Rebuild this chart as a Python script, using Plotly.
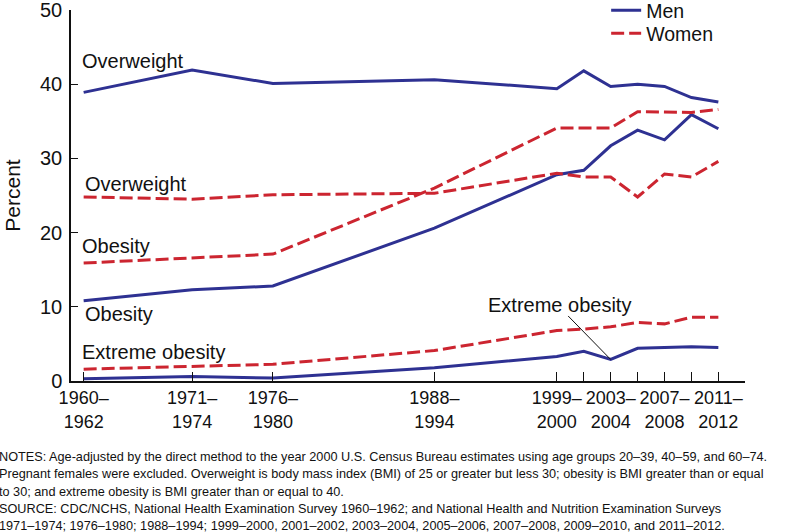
import plotly.graph_objects as go

# ---- data ----
periods = ["1960–1962", "1971–1974", "1976–1980", "1988–1994", "1999–2000", "2001–2002",
           "2003–2004", "2005–2006", "2007–2008", "2009–2010", "2011–2012"]
labeled = [True, True, True, True, True, False, True, False, True, False, True]
# position of each survey period along the (non-uniform) time axis
period_axis_pos = [0, 4.03, 7.03, 13.03, 17.58, 18.58, 19.58, 20.58, 21.58, 22.58, 23.58]

men_overweight = [38.9, 41.9, 40.1, 40.6, 39.4, 41.8, 39.7, 40.0, 39.7, 38.2, 37.6]
men_obesity = [10.8, 12.3, 12.8, 20.6, 27.8, 28.4, 31.7, 33.8, 32.5, 35.9, 34.0]
men_extreme = [0.3, 0.6, 0.4, 1.8, 3.3, 4.0, 2.9, 4.4, 4.5, 4.6, 4.5]

women_overweight = [24.8, 24.5, 25.1, 25.3, 28.0, 27.5, 27.5, 24.8, 27.9, 27.5, 29.6]
women_obesity = [15.9, 16.6, 17.1, 26.0, 34.1, 34.1, 34.1, 36.3, 36.2, 36.2, 36.6]
women_extreme = [1.6, 2.0, 2.25, 4.1, 6.8, 7.0, 7.3, 7.9, 7.7, 8.6, 8.6]

tick_text = [p.replace("–", "–<br>") if show else "" for p, show in zip(periods, labeled)]

note_lines = [
    "NOTES: Age-adjusted by the direct method to the year 2000 U.S. Census Bureau estimates using age groups 20–39, 40–59, and 60–74.",
    "Pregnant females were excluded. Overweight is body mass index (BMI) of 25 or greater but less 30; obesity is BMI greater than or equal",
    "to 30; and extreme obesity is BMI greater than or equal to 40.",
    "SOURCE: CDC/NCHS, National Health Examination Survey 1960–1962; and National Health and Nutrition Examination Surveys",
    "1971–1974; 1976–1980; 1988–1994; 1999–2000, 2001–2002, 2003–2004, 2005–2006, 2007–2008, 2009–2010, and 2011–2012.",
]

BLUE = "#2e3192"
RED = "#cc2530"
FONT = "Liberation Sans, Arial, sans-serif"

fig = go.Figure()
men_series = [men_overweight, men_obesity, men_extreme]
women_series = [women_overweight, women_obesity, women_extreme]
for i, s in enumerate(men_series):
    fig.add_trace(go.Scatter(x=period_axis_pos, y=s, mode="lines", name="Men",
                             showlegend=(i == 0), legend="legend",
                             line=dict(color=BLUE, width=3)))
for i, s in enumerate(women_series):
    fig.add_trace(go.Scatter(x=period_axis_pos, y=s, mode="lines", name="Women",
                             showlegend=(i == 0), legend="legend2",
                             line=dict(color=RED, width=3, dash="13px,5px")))

ann_font = dict(family=FONT, size=20, color="#111")
labels = [
    ("Overweight", -0.15, 43.1),
    ("Overweight", -0.02, 26.6),
    ("Obesity", -0.12, 18.2),
    ("Obesity", -0.02, 9.0),
    ("Extreme obesity", -0.15, 3.9),
    ("Extreme obesity", 14.96, 10.2),
]
for txt, x, y in labels:
    fig.add_annotation(x=x, y=y, xref="x", yref="y", text=txt, showarrow=False,
                       xanchor="left", yanchor="middle", font=ann_font)

# leader line to men's extreme obesity, 2003–2004
fig.add_annotation(x=period_axis_pos[6], y=men_extreme[6], xref="x", yref="y", text="",
                   showarrow=True, arrowhead=0, arrowwidth=1, arrowcolor="#111",
                   ax=-44, ay=-45, standoff=0)

# notes block: one annotation per line
PLOT_TOP, PLOT_BOTTOM, PLOT_LEFT, PLOT_W = 10, 381, 71, 674
note_centers_px = [457.0, 474.3, 491.6, 508.9, 526.0]
for line, cy in zip(note_lines, note_centers_px):
    fig.add_annotation(x=(-3 - PLOT_LEFT) / PLOT_W, y=(PLOT_BOTTOM - cy) / (PLOT_BOTTOM - PLOT_TOP),
                       xref="paper", yref="paper", text=line, showarrow=False,
                       xanchor="left", yanchor="middle", align="left",
                       font=dict(family=FONT, size=12.7, color="#111"))

legend_common = dict(xanchor="left", yanchor="top",
                     font=dict(family=FONT, size=19.5, color="#111"),
                     bgcolor="rgba(0,0,0,0)")

fig.update_layout(
    width=788, height=532,
    margin=dict(l=71, r=43, t=10, b=151, autoexpand=False),
    plot_bgcolor="white", paper_bgcolor="white",
    font=dict(family=FONT, color="#111"),
    showlegend=True,
    legend=dict(x=0.794, y=1.051, **legend_common),
    legend2=dict(x=0.794, y=0.989, **legend_common),
    xaxis=dict(range=[-0.47, 24.57], tickvals=period_axis_pos, ticktext=tick_text,
               ticks="inside", ticklen=9, tickcolor="#111", showline=True,
               linecolor="#111", linewidth=1.5, showgrid=False, zeroline=False,
               ticklabeloverflow="allow",
               tickfont=dict(family=FONT, size=18, color="#111")),
    yaxis=dict(range=[0, 50], tickvals=[0, 10, 20, 30, 40, 50],
               ticks="inside", ticklen=7, tickcolor="#111", showline=True,
               linecolor="#111", linewidth=1.5, showgrid=False, zeroline=False,
               ticklabeloverflow="allow", ticklabelstandoff=3,
               tickfont=dict(family=FONT, size=20, color="#111"),
               title=dict(text="Percent", font=dict(family=FONT, size=21, color="#111"),
                          standoff=14)),
)

fig.write_html("out.html", config={"displayModeBar": False},
               post_script="document.body.style.margin='0';")
